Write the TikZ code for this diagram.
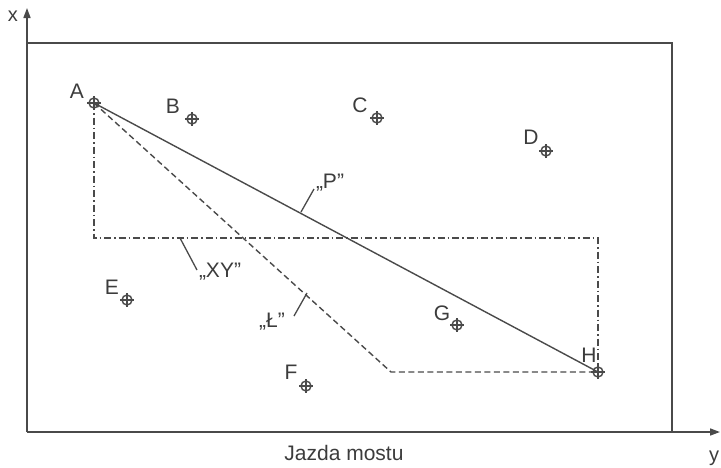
\documentclass[tikz,border=0pt]{standalone}
\usepackage{fontspec}
\setmainfont{Liberation Sans}
\usetikzlibrary{arrows.meta,calc}
\definecolor{ink}{HTML}{4A4A4A}
\definecolor{txt}{HTML}{3C3C3C}
\begin{document}
\begin{tikzpicture}[x=1pt,y=-1pt,
  line/.style={draw=ink,line width=1.4pt},
  axis/.style={draw=ink,line width=1.6pt},
  frame/.style={draw=ink,line width=1.1pt},
  target/.style={circle,draw=ink,line width=1.4pt,minimum size=10pt,inner sep=0pt},
  lbl/.style={text=txt,font=\fontsize{21}{21}\selectfont,inner sep=0pt},
  tag/.style={text=txt,font=\fontsize{20}{20}\selectfont,inner sep=0pt},
  dashdot/.style={dash pattern=on 7pt off 3pt on 1.5pt off 3pt},
  dsh/.style={dash pattern=on 6pt off 3.5pt}]
\useasboundingbox (0,0) rectangle (721,467);
% axes and frame
\coordinate (O) at (27,432);
\coordinate (xt) at (27,8);
\coordinate (yt) at (720,432);
\coordinate (tl) at (27,43);
\coordinate (tr) at (672,43);
\coordinate (br) at (672,432);
\draw[axis,-{Triangle[length=10pt,width=7pt]}] (O) -- (xt);
\draw[axis,-{Triangle[length=10pt,width=7pt]}] (O) -- (yt);
\draw[frame] (tl) -- (tr) -- (br);
\node[tag] (xl) at (13,16) {x};
\node[tag] (yl) at (714,458) {y};
\node[lbl] (jm) at (344,453) {Jazda mostu};
% targets
\foreach \n/\px/\py in {A/94/103,B/192/119,C/377/118,D/546/151,E/127/300,F/306/386,G/457/325,H/598/372}{
  \node[target] (\n) at (\px,\py) {};
  \draw[ink,line width=1.3pt] ($(\n.center)+(0,-7)$) -- ($(\n.center)+(0,7)$)
                            ($(\n.center)+(-7,0)$) -- ($(\n.center)+(7,0)$);
}
\foreach \n/\lx/\ly in {A/77/91,B/173/106,C/360/105,D/531/137,E/112/287,F/291/372,G/442/313,H/589/355}{
  \node[lbl] (l\n) at (\lx,\ly) {\n};
}
% routes
\coordinate (c1) at (94,238);
\coordinate (c2) at (598,238);
\coordinate (c3) at (391,372);
\draw[line] (A.center) -- (H.center);
\draw[line,dsh] (A.center) -- (c3) -- (H.center);
\draw[line,dashdot,line width=1.2pt] (A.center) -- (c1) -- (c2) -- (H.center);
% labels with leaders
\coordinate (p0) at (301,212);
\coordinate (p1) at (314,189);
\coordinate (x0) at (180,238);
\coordinate (x1) at (197,270);
\coordinate (k0) at (307,293);
\coordinate (k1) at (294,316);
\draw[ink,line width=1.3pt] (p0) -- (p1) (x0) -- (x1) (k0) -- (k1);
\node[lbl] (tP) at (330,183) {„P"};
\node[lbl] (tXY) at (220,272) {„XY"};
\node[lbl] (tL) at (272,322) {„Ł"};
\end{tikzpicture}
\end{document}
